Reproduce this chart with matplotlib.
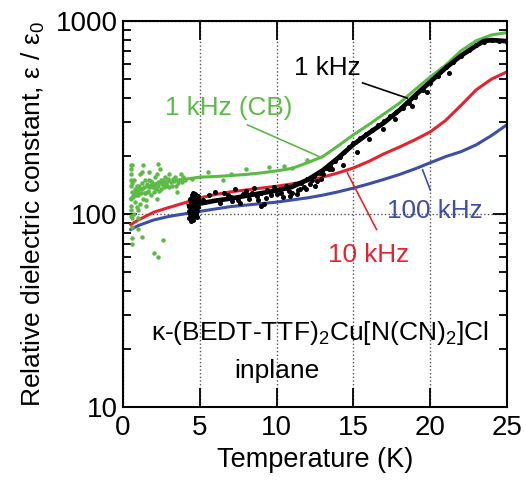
import matplotlib
matplotlib.use('Agg')
import matplotlib.pyplot as plt
from matplotlib.ticker import LogLocator, NullFormatter, FixedLocator

plt.rcParams['font.family'] = ['Liberation Sans', 'DejaVu Sans']
plt.rcParams['mathtext.fontset'] = 'custom'
plt.rcParams['mathtext.rm'] = 'Liberation Sans'
plt.rcParams['mathtext.it'] = 'Liberation Sans:italic'

# 100 kHz
t_blue = [0.5, 1, 2, 3, 4, 5, 6, 7, 8, 9, 10, 11, 12, 13, 14, 15, 16, 17, 18, 19, 20, 21, 22, 23, 24, 25]
eps_blue = [83, 87, 93, 97, 100, 103, 106, 109, 111, 113, 115, 118, 121, 125, 130, 136, 143, 151, 160, 171, 184, 198, 210, 228, 255, 290]

# 10 kHz
t_red = [0.5, 1, 2, 3, 4, 5, 6, 7, 8, 9, 10, 11, 12, 13, 14, 15, 16, 17, 18, 19, 20, 21, 22, 23, 24, 25]
eps_red = [88, 93, 102, 108, 114, 121, 126, 130, 133, 136, 139, 143, 148, 155, 163, 173, 187, 205, 222, 242, 266, 305, 365, 440, 500, 545]

# 1 kHz (CB) line
t_cb = [0.5, 1, 2, 3, 4, 5, 6, 7, 8, 9, 10, 11, 12, 13, 14, 15, 16, 17, 18, 19, 20, 21, 22, 23, 24, 25]
eps_cb = [120, 133, 142, 147, 151, 155, 156, 158, 160, 163, 167, 172, 184, 198, 225, 257, 290, 330, 375, 440, 512, 590, 700, 790, 846, 870]

# 1 kHz (CB) scattered points at low T
t_cb_pts = [0.5, 0.5, 0.5, 0.5, 0.5, 0.55, 0.55, 0.6, 0.55, 0.6, 0.7, 0.8, 0.9, 1.0, 1.0, 1.1, 1.2, 1.3,
            1.4, 1.5, 1.5, 1.6, 1.7, 1.8, 1.9, 2.0, 2.0, 2.1, 2.2, 2.3, 2.4, 2.5, 2.6, 2.7, 2.8, 3.0,
            3.2, 3.4, 3.6, 3.8, 4.0, 1.0, 1.2, 2.6, 2.0, 2.3, 2.3, 0.6, 0.7, 1.0, 3.5, 5.5, 7.0, 9.5,
            8.0, 11.0, 10.5, 12.0, 6.5, 4.5, 1.3, 0.8, 1.6, 2.9, 3.3, 1.1, 0.9, 1.4,
            0.5, 0.5, 0.5, 0.5, 0.6, 0.65, 0.75, 0.85, 0.95, 1.05, 1.15, 1.25, 1.35, 1.45, 1.55,
            1.65, 1.75, 1.85, 1.95, 2.05, 2.15, 2.25, 2.35, 2.45, 2.55, 2.65, 2.75, 2.85, 2.95,
            3.1, 3.25, 3.45, 3.65, 3.85, 2.2, 1.7, 1.2, 3.0, 3.9]
eps_cb_pts = [180, 160, 140, 120, 105, 95, 85, 75, 70, 130, 150, 115, 140, 125, 105, 160, 135, 120,
              150, 110, 118, 140, 165, 125, 145, 130, 138, 155, 120, 140, 170, 135, 150, 143, 145, 160,
              140, 155, 145, 160, 150, 83, 76, 73, 63, 60, 181, 180, 100, 95, 130, 165, 160, 175,
              170, 172, 178, 190, 150, 152, 180, 128, 132, 152, 148, 112, 108, 128,
              150, 170, 110, 98, 145, 122, 135, 125, 132, 140, 128, 145, 138, 128, 142,
              130, 138, 148, 138, 142, 135, 147, 132, 150, 142, 138, 155, 140, 150,
              146, 152, 140, 150, 147, 160, 150, 165, 138, 155]

# 1 kHz line (dense band)
t_k = [4.3, 5, 6, 7, 8, 9, 10, 11, 12, 13, 14, 15, 16, 17, 18, 19, 20, 21, 22, 23, 23.5, 24, 25]
eps_k = [110, 113, 117, 120, 124, 128, 132, 138, 150, 168, 195, 229, 262, 297, 345, 410, 483, 570, 660, 745, 787, 795, 785]

# 1 kHz scattered points
t_k_pts = [4.3, 4.35, 4.4, 4.45, 4.5, 4.55, 4.6, 4.65, 4.7, 4.75, 4.8, 4.85, 4.9, 4.4, 4.5, 4.6, 4.7, 4.8,
           4.35, 4.55, 4.75, 4.45, 4.65, 4.85, 5.2, 5.6, 6.0, 6.3, 6.6, 7.0, 7.3, 7.5, 7.8, 8.0, 8.2,
           8.5, 8.7, 9.0, 9.2, 9.4, 9.6, 9.8, 10.0, 10.2, 10.4, 10.6, 10.8, 11.0, 11.2, 11.4, 11.6,
           11.8, 12.0, 12.2, 12.4, 12.6, 12.8, 13.0, 13.2, 13.5, 13.8, 14.1, 14.4, 14.7, 15.0, 15.4,
           15.8, 16.2, 16.6, 17.0, 17.4, 17.8, 18.2, 18.6, 19.0, 19.5, 20.0, 20.5, 21.0, 21.5, 22.0,
           22.5, 23.0, 23.5, 24.0, 24.5, 25.0, 9.0, 8.8, 7.6, 10.9, 11.5, 12.3, 13.4,
           4.3, 4.4, 4.5, 4.6, 4.7, 4.8, 4.9, 4.35, 4.55, 4.75, 6.8, 7.1, 8.4, 9.3, 10.3, 10.7,
           11.3, 11.9, 12.5, 12.9, 13.6, 14.3, 15.2, 16.0, 16.9, 17.7, 18.8, 19.8, 21.2]
eps_k_pts = [95, 100, 92, 105, 110, 118, 98, 122, 126, 112, 104, 120, 108, 115, 125, 102, 118, 96,
             120, 128, 100, 112, 107, 115, 118, 125, 130, 114, 128, 122, 134, 118, 127, 131, 120,
             136, 124, 129, 113, 133, 125, 138, 127, 135, 122, 140, 132, 128, 142, 133, 145,
             138, 152, 143, 158, 148, 163, 160, 172, 178, 188, 198, 208, 222, 232, 248,
             260, 272, 290, 302, 322, 338, 352, 375, 402, 440, 475, 520, 575, 610, 660,
             705, 752, 782, 800, 790, 780, 110, 118, 114, 124, 135, 150, 170,
             103, 120, 97, 112, 100, 115, 124, 108, 93, 122, 125, 117, 128, 121, 129, 136,
             126, 135, 140, 152, 170, 180, 210, 245, 275, 310, 362, 430, 535]

fig = plt.figure(figsize=(5.26, 4.86), dpi=100)
ax = fig.add_axes([0.234, 0.163, 0.730, 0.794])

green = '#5cba47'
red = '#e8222c'
blue = '#3c4ea6'

ax.plot(t_blue, eps_blue, color=blue, lw=2.2)
ax.plot(t_red, eps_red, color=red, lw=2.2)
ax.plot(t_cb, eps_cb, color=green, lw=2.2)
ax.plot(t_cb_pts, eps_cb_pts, ls='none', marker='o', ms=2.2, color=green)
ax.plot(t_k, eps_k, color='black', lw=3.4)
ax.plot(t_k_pts, eps_k_pts, ls='none', marker='o', ms=2.6, color='black')

ax.set_yscale('log')
ax.set_xlim(0, 25)
ax.set_ylim(10, 1000)
ax.xaxis.set_major_locator(FixedLocator([0, 5, 10, 15, 20, 25]))
ax.yaxis.set_major_locator(FixedLocator([10, 100, 1000]))
ax.yaxis.set_minor_locator(LogLocator(base=10, subs=range(2, 10)))
ax.yaxis.set_minor_formatter(NullFormatter())
ax.set_yticklabels(['10', '100', '1000'])

ax.tick_params(axis='x', which='major', direction='in', length=14, width=1.3,
               top=True, labelsize=20, pad=6)
ax.tick_params(axis='y', which='major', direction='in', length=10, width=1.3,
               right=True, labelsize=20, pad=4)
ax.tick_params(axis='y', which='minor', direction='in', length=6, width=1.3, right=True)
for s in ax.spines.values():
    s.set_linewidth(1.5)

ax.grid(True, which='major', ls=':', color='#555555', lw=1.0)

ax.set_xlabel('Temperature (K)', fontsize=19.5, labelpad=4)
ax.set_ylabel('Relative dielectric constant, ε / ε$_0$', fontsize=19, labelpad=6)

ax.text(6.9, 354, '1 kHz (CB)', color=green, fontsize=18.8, ha='center', va='center')
ax.plot([8.1, 12.9], [289, 196], color=green, lw=1.2)
ax.text(13.3, 570, '1 kHz', color='black', fontsize=18.8, ha='center', va='center')
ax.plot([15.6, 18.5], [477, 398], color='black', lw=1.2)
ax.text(20.3, 103, '100 kHz', color=blue, fontsize=18.8, ha='center', va='center')
ax.plot([19.5, 20.0], [169, 133], color=blue, lw=1.2)
ax.text(16.0, 61, '10 kHz', color=red, fontsize=18.8, ha='center', va='center')
ax.plot([14.6, 16.5], [163, 83], color=red, lw=1.2)

ax.text(12.8, 24, r'κ-(BEDT-TTF)$_2$Cu[N(CN)$_2$]Cl', fontsize=19, ha='center', va='center')
ax.text(10.0, 15.3, 'inplane', fontsize=19, ha='center', va='center')

fig.savefig('out.png', dpi=100)
